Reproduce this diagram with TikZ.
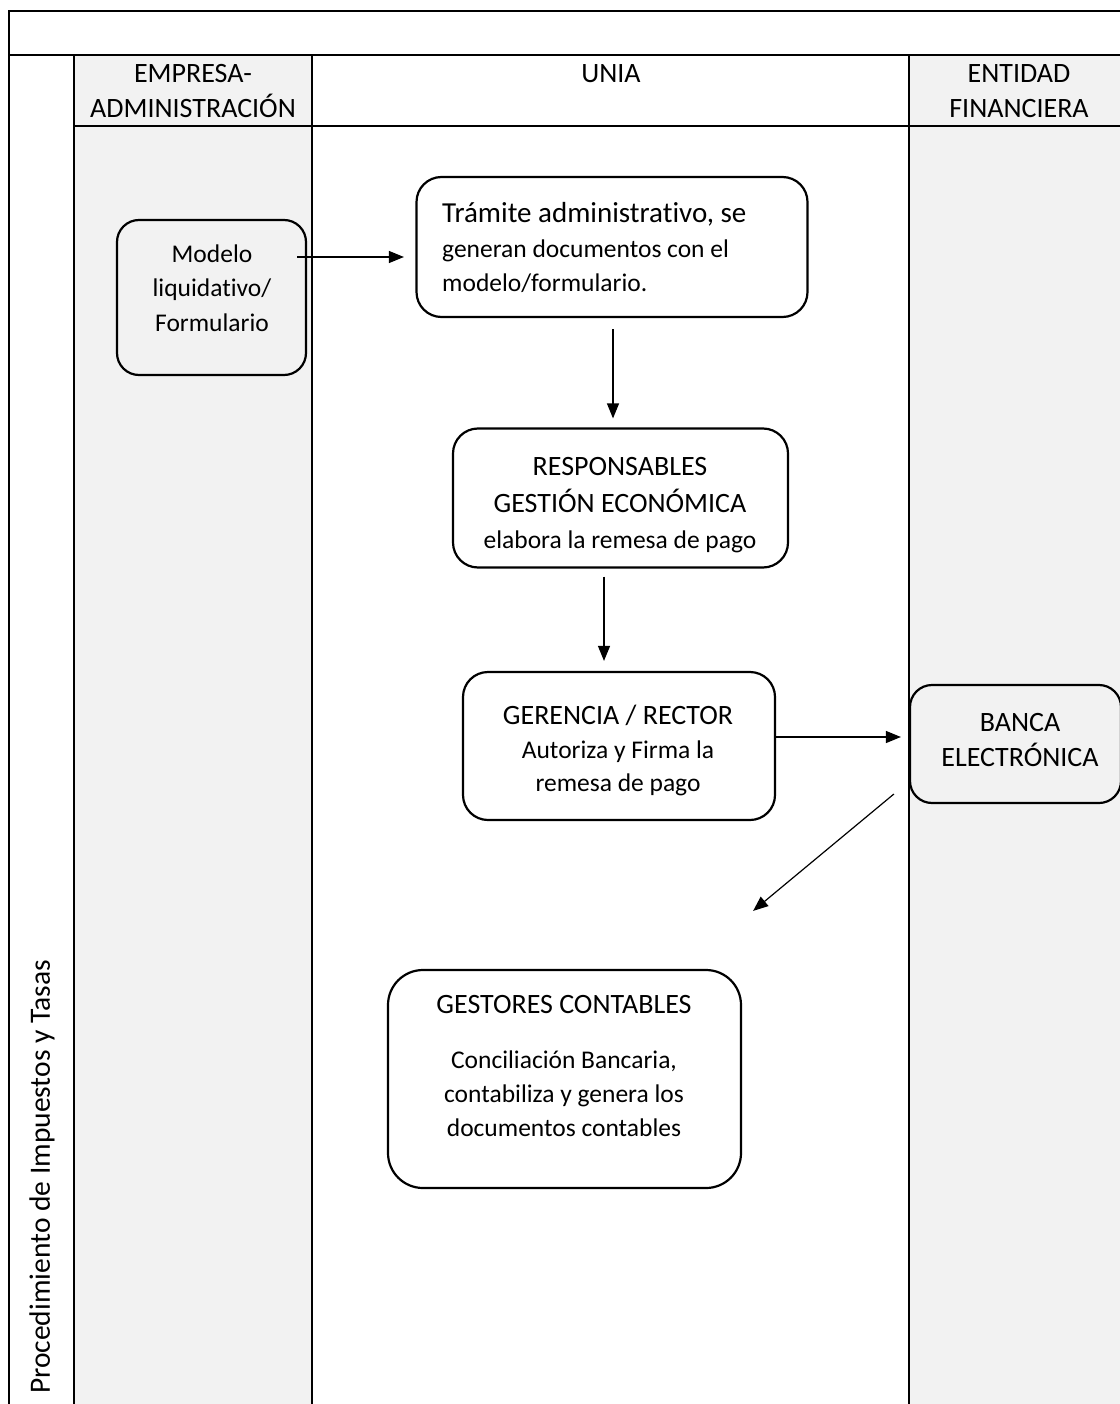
\documentclass[tikz,border=0pt]{standalone}
\usepackage{fontspec}
\setmainfont{Carlito}[Ligatures=NoCommon]
\usetikzlibrary{arrows.meta}
\definecolor{lanegray}{HTML}{F2F2F2}
\begin{document}
\begin{tikzpicture}[x=1pt,y=-1pt,
  frameline/.style={line width=2.3pt},
  procbox/.style={draw,line width=2.2pt,rounded corners=22pt,inner sep=0pt},
  big/.style={font=\fontsize{28}{34}\selectfont},
  small/.style={font=\fontsize{25.5}{34}\selectfont},
  arr/.style={line width=1.2pt,-{Triangle[length=15pt,width=12pt]}},
  txt/.style={anchor=base,inner sep=0pt},
  txtl/.style={anchor=base west,inner sep=0pt}]
\useasboundingbox (0,0) rectangle (1119,1404);
% lanes
\fill[lanegray] (74,55) rectangle (312,1410);
\fill[lanegray] (909,55) rectangle (1130,1410);
% frame
\draw[frameline] (9,1410) -- (9,11) -- (1130,11);
\draw[frameline] (9,55) -- (1130,55);
\draw[frameline] (74,55) -- (74,1410);
\draw[frameline] (312,55) -- (312,1410);
\draw[frameline] (909,55) -- (909,1410);
\draw[frameline] (74,126) -- (1130,126);
% headers
\node[txt,big] (h1a) at (193,83) {EMPRESA-};
\node[txt,big] (h1b) at (193,118) {ADMINISTRACIÓN};
\node[txt,big] (h2) at (611,83) {UNIA};
\node[txt,big] (h3a) at (1019,83) {ENTIDAD};
\node[txt,big] (h3b) at (1019,118) {FINANCIERA};
\node[font=\fontsize{29.5}{34}\selectfont,rotate=90,inner sep=0pt] (proc) at (42,1177) {Procedimiento de Impuestos y Tasas};
% boxes
\node[procbox,minimum width=189pt,minimum height=155pt] (modelo) at (211.5,297.5) {};
\node[txt,small] (m1) at (212,263) {Modelo};
\node[txt,small] (m2) at (212,297) {liquidativo/};
\node[txt,small] (m3) at (212,331) {Formulario};
\node[procbox,minimum width=391pt,minimum height=140pt,rounded corners=25pt] (tramite) at (612,247) {};
\node[txtl,font=\fontsize{29}{34}\selectfont] (t1) at (442,223) {Trámite administrativo, se};
\node[txtl,small] (t2) at (442,258) {generan documentos con el};
\node[txtl,small] (t3) at (442,292) {modelo/formulario.};
\node[procbox,minimum width=335pt,minimum height=139pt,rounded corners=25pt] (resp) at (620.5,498) {};
\node[txt,big] (r1) at (620,475) {RESPONSABLES};
\node[txt,big] (r2) at (620,512) {GESTIÓN ECONÓMICA};
\begin{scope}
\clip (450,520) rectangle (790,554);
\node[txt,small] (r3) at (620,548) {elabora la remesa de pago};
\end{scope}
\node[procbox,minimum width=312pt,minimum height=148pt,rounded corners=25pt] (ger) at (619,746) {};
\node[txt,big] (g1) at (618,724) {GERENCIA / RECTOR};
\node[txt,small] (g2) at (618,758) {Autoriza y Firma la};
\node[txt,small] (g3) at (618,791) {remesa de pago};
\node[procbox,minimum width=211pt,minimum height=118pt] (banca) at (1015.5,744) {};
\node[txt,big] (b1) at (1020,731) {BANCA};
\node[txt,big] (b2) at (1020,766) {ELECTRÓNICA};
\node[procbox,minimum width=353pt,minimum height=218pt,rounded corners=35pt] (gest) at (564.5,1079) {};
\node[txt,big] (c0) at (564,1013) {GESTORES CONTABLES};
\node[txt,small] (c1) at (564,1068) {Conciliación Bancaria,};
\node[txt,small] (c2) at (564,1102) {contabiliza y genera los};
\node[txt,small] (c3) at (564,1136) {documentos contables};
% connectors
\draw[arr] ([shift={(-10,-40.5)}]modelo.east) -- ([shift={(-11.5,10)}]tramite.west);
\draw[arr] ([shift={(1,11)}]tramite.south) -- ([shift={(-7.5,-9)}]resp.north);
\draw[arr] ([shift={(-16.5,8)}]resp.south) -- ([shift={(-15,-10)}]ger.north);
\draw[arr] ([shift={(0,-9)}]ger.east) -- ([shift={(-8,-7)}]banca.west);
\draw[arr] ([shift={(-15,50)}]banca.west) -- ([shift={(11,-58)}]gest.north east);
\end{tikzpicture}
\end{document}
